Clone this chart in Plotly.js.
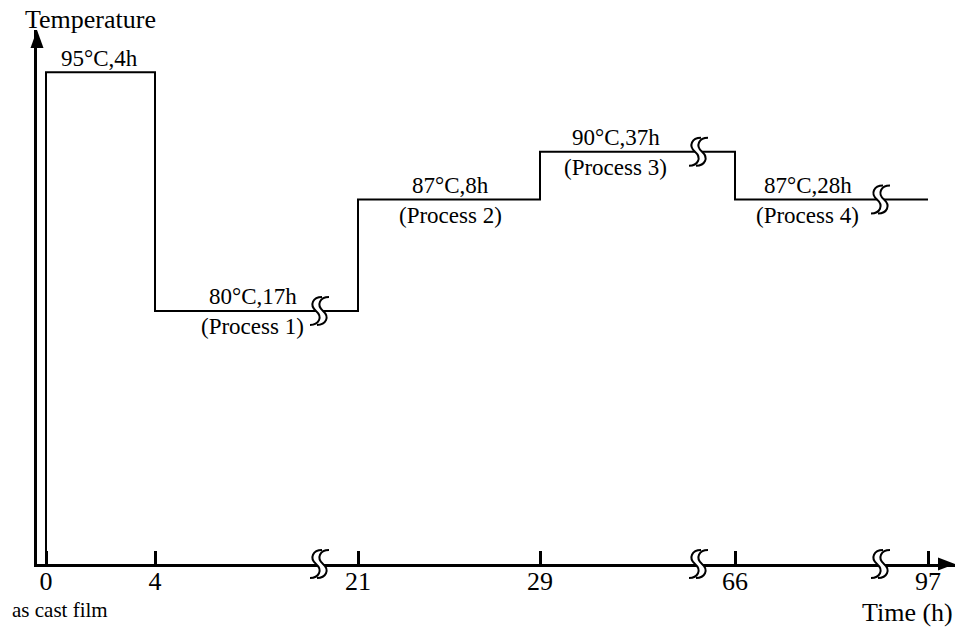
<!DOCTYPE html>
<html>
<head>
<meta charset="utf-8">
<script src="https://cdn.plot.ly/plotly-3.0.1.min.js"></script>
<style>html,body{margin:0;padding:0;background:#fff;}#chart{width:956px;height:627px;}</style>
</head>
<body>
<div id="chart"></div>
<script>
// ---- data ----
const times = [0, 4, 21, 29, 66, 97];              // segment boundaries (h)
const tickLabels = ['0', '4', '21', '29', '66', '97'];
const temps = [95, 80, 87, 90, 87];                 // temperature of each step (°C)
const durations = [4, 17, 8, 37, 28];               // hours of each step
const processNames = ['', '(Process 1)', '(Process 2)', '(Process 3)', '(Process 4)'];

// ---- broken (non-proportional) time axis: schematic position of each boundary ----
const axisPos = [46, 155, 358, 540, 735, 928];
const breakPos = [319, 698, 880];       // axis break marks
const breakOnSegment = [1, 3, 4];       // step segment carrying each break
const labelShift = [-1, -4, 1, -22, -24];

const FONT = 'Liberation Serif, Times New Roman, serif';
const W = 956, H = 627, M = {l: 37, r: 1, t: 30, b: 63};
const yRange = [64.1, 97.65];
const plotH = H - M.t - M.b;
const pyToPaper = py => (H - M.b - py) / plotH;

// step trace
const sx = [axisPos[0]], sy = [yRange[0]];
for (let i = 0; i < temps.length; i++) {
  sx.push(axisPos[i], axisPos[i + 1]);
  sy.push(temps[i], temps[i]);
}

const trace = {
  x: sx, y: sy, type: 'scatter', mode: 'lines',
  line: {color: '#000', width: 2, shape: 'linear'},
  hoverinfo: 'skip', showlegend: false
};

// break symbol: two S curves (screen coords, y down) with a white gap between them
const S = [[6, -14], [-3, -14], [-7, -6], [0, 0], [7, 6], [3, 14], [-6, 14]];
function sPts(dx) { return S.map(p => [p[0] + dx - 3, -p[1]]); }
const fmt = p => p[0] + ',' + p[1];
function curve(p) {
  return 'M' + fmt(p[0]) + ' C' + fmt(p[1]) + ' ' + fmt(p[2]) + ' ' + fmt(p[3]) +
         ' C' + fmt(p[4]) + ' ' + fmt(p[5]) + ' ' + fmt(p[6]);
}
function breakShapes(xa, ya, yref) {
  const a = sPts(0), b = sPts(7);
  const base = {type: 'path', xref: 'x', yref: yref, xsizemode: 'pixel', ysizemode: 'pixel',
    xanchor: xa, yanchor: ya, layer: 'above'};
  const fill = curve(a) + ' L' + fmt(b[6]) + ' C' + fmt(b[5]) + ' ' + fmt(b[4]) + ' ' + fmt(b[3]) +
               ' C' + fmt(b[2]) + ' ' + fmt(b[1]) + ' ' + fmt(b[0]) + ' Z';
  return [
    Object.assign({}, base, {path: fill, fillcolor: '#fff', line: {width: 0}}),
    Object.assign({}, base, {path: curve(a), fillcolor: 'rgba(0,0,0,0)', line: {color: '#000', width: 2}}),
    Object.assign({}, base, {path: curve(b), fillcolor: 'rgba(0,0,0,0)', line: {color: '#000', width: 2}})
  ];
}

let shapes = [];
breakPos.forEach((bx, k) => {
  shapes = shapes.concat(breakShapes(bx, 0, 'paper'));                       // on the time axis
  shapes = shapes.concat(breakShapes(bx, temps[breakOnSegment[k]], 'y'));    // on the step line
});
// arrow heads
shapes.push({type: 'path', xref: 'paper', yref: 'paper', xsizemode: 'pixel', ysizemode: 'pixel',
  xanchor: 0, yanchor: 1, path: 'M-6.5,-18 L6.5,-18 L0,0 Z',
  fillcolor: '#000', line: {width: 0}, layer: 'above'});
shapes.push({type: 'path', xref: 'paper', yref: 'paper', xsizemode: 'pixel', ysizemode: 'pixel',
  xanchor: 1, yanchor: 0, path: 'M-17,-6.5 L-17,6.5 L0,0 Z',
  fillcolor: '#000', line: {width: 0}, layer: 'above'});

const annotations = [];
for (let i = 0; i < temps.length; i++) {
  const cx = (axisPos[i] + axisPos[i + 1]) / 2;
  annotations.push({x: cx, y: temps[i], xref: 'x', yref: 'y', xshift: labelShift[i], yshift: 14,
    text: temps[i] + '°C,' + durations[i] + 'h', showarrow: false, yanchor: 'middle',
    font: {family: FONT, size: 23, color: '#000'}});
  if (processNames[i]) {
    annotations.push({x: cx, y: temps[i], xref: 'x', yref: 'y', xshift: labelShift[i], yshift: -16,
      text: processNames[i], showarrow: false, yanchor: 'middle',
      font: {family: FONT, size: 23, color: '#000'}});
  }
}
annotations.push({x: 90, y: pyToPaper(19), xref: 'x', yref: 'paper', text: 'Temperature',
  showarrow: false, yanchor: 'middle', font: {family: FONT, size: 26, color: '#000'}});
annotations.push({x: 60, y: pyToPaper(610), xref: 'x', yref: 'paper', text: 'as cast film',
  showarrow: false, yanchor: 'middle', font: {family: FONT, size: 21, color: '#000'}});
annotations.push({x: 1, y: pyToPaper(612), xref: 'paper', yref: 'paper', xanchor: 'right', text: 'Time (h)',
  showarrow: false, yanchor: 'middle', font: {family: FONT, size: 26, color: '#000'}});

const layout = {
  width: W, height: H, autosize: false,
  margin: M,
  paper_bgcolor: '#fff', plot_bgcolor: '#fff',
  showlegend: false,
  xaxis: {range: [37, 955], showline: true, linecolor: '#000', linewidth: 3,
    showgrid: false, zeroline: false, tickmode: 'array', tickvals: axisPos, ticktext: tickLabels,
    ticks: 'inside', ticklen: 13, tickwidth: 3, tickcolor: '#000', ticklabelstandoff: -8,
    tickfont: {family: FONT, size: 26, color: '#000'}, fixedrange: true},
  yaxis: {range: yRange, showline: true, linecolor: '#000', linewidth: 3,
    showgrid: false, zeroline: false, showticklabels: false, ticks: '', fixedrange: true},
  shapes: shapes,
  annotations: annotations
};

Plotly.newPlot('chart', [trace], layout, {displayModeBar: false, staticPlot: true});
</script>
</body>
</html>
